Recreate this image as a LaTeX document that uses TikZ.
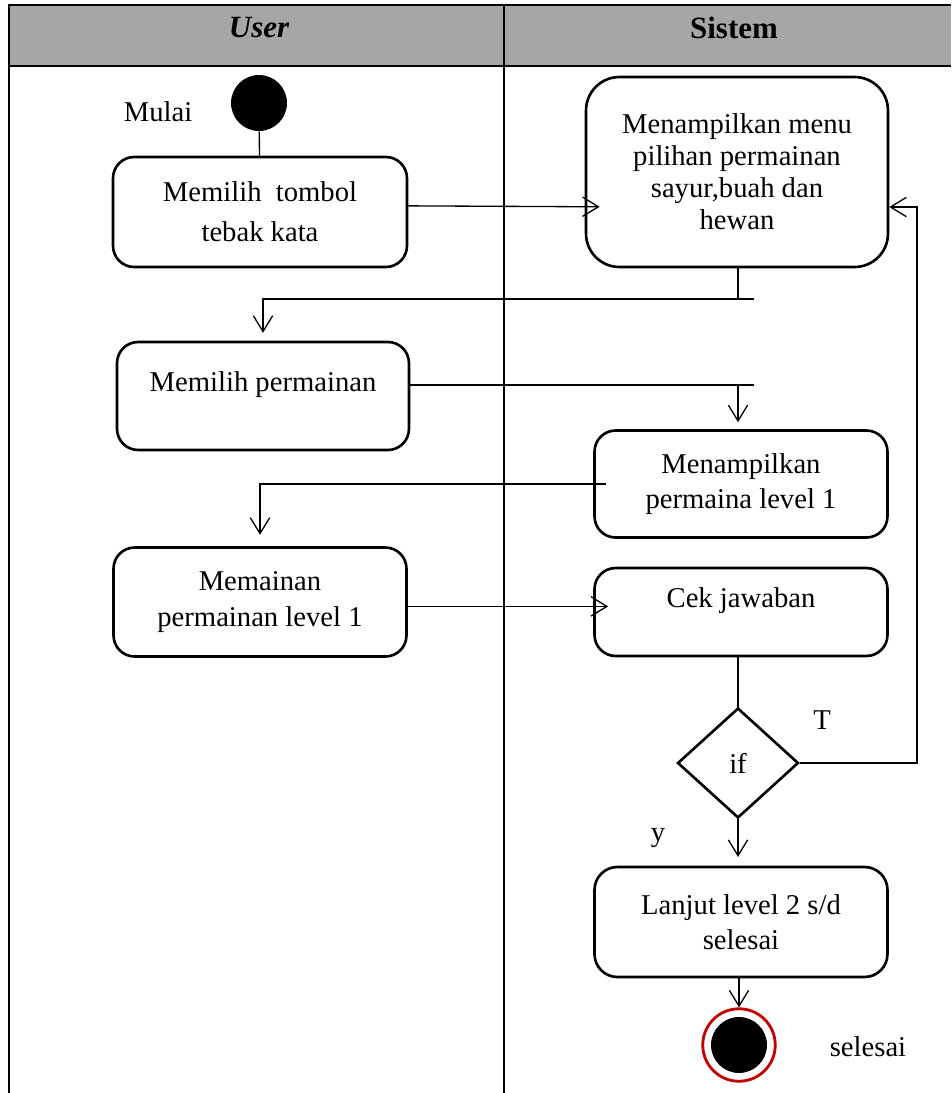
\documentclass[tikz,border=0pt]{standalone}
\usepackage{fontspec}
\setmainfont{Liberation Serif}
\usetikzlibrary{arrows.meta,shapes.geometric,calc,positioning}
\definecolor{headgray}{HTML}{A6A6A6}
\definecolor{endred}{HTML}{C00000}

\begin{document}
\begin{tikzpicture}[x=0.02cm,y=-0.02cm,
  lane/.style={line width=1.7pt},
  act/.style={draw, line width=1.5pt, rounded corners=12pt, align=center, inner sep=0pt,
    minimum width=5.86cm, minimum height=2.2cm, font=\fontsize{16.3}{20}\selectfont},
  txt/.style={font=\fontsize{16.3}{20}\selectfont, inner sep=0pt},
  link/.style={line width=0.75pt},
  flow/.style={line width=0.75pt, -{Straight Barb[length=9pt,width=11pt]}}]
\useasboundingbox (0,0) rectangle (951,1093);

% Header and swimlanes
\fill[headgray] (9,5) rectangle (951,66);
\draw[lane] (9,1093) -- (9,5) -- (951,5);
\draw[lane] (9,66) -- (951,66);
\draw[lane] (504,5) -- (504,1093);
\node[font=\fontsize{17.6}{20}\selectfont\bfseries\itshape] (hu) at (259,28) {User};
\node[font=\fontsize{17.6}{20}\selectfont\bfseries] (hs) at (734,28) {Sistem};

% Start and end
\node[circle, fill=black, inner sep=0pt, minimum size=1.12cm] (start) at (259,103) {};
\node[txt] (mulai) at (158,112) {Mulai};
\node[circle, draw=endred, line width=1.6pt, inner sep=0pt, minimum size=1.45cm] (stop) at (739,1045) {};
\node[circle, fill=black, inner sep=0pt, minimum size=1.12cm] (stopdot) at (stop) {};
\node[txt] (selesai) at (868,1047) {selesai};

% User lane
\node[act, font=\fontsize{16.3}{22.8}\selectfont, minimum width=5.88cm] (u1) at (260,212) {Memilih\ \ tombol\\tebak kata};
\node[act, text depth=16.5pt, minimum width=5.84cm, minimum height=2.16cm] (u2) at (263,396) {Memilih permainan};
\node[act, minimum height=2.18cm] (u3) at (260,602) {Memainan\\permainan level 1};

% Sistem lane
\node[act, font=\fontsize{16.3}{18.2}\selectfont, rounded corners=19pt, minimum width=6.04cm, minimum height=3.8cm] (s1) at (737,172) {Menampilkan menu\\pilihan permainan\\sayur,buah dan\\hewan};
\node[act, minimum height=2.14cm] (s2) at (741,484) {Menampilkan\\permaina level 1};
\node[act, text depth=17pt, minimum height=1.76cm] (s3) at (741,612) {Cek jawaban};
\node[diamond, draw, line width=1.5pt, inner sep=0pt, minimum width=2.42cm, minimum height=2.2cm, font=\fontsize{16.3}{20}\selectfont] (d1) at (738,763) {if};
\node[act, rounded corners=13pt] (s4) at (741,922) {Lanjut level 2 s/d\\selesai};
\node[txt] (lt) at (822,720) {T};
\node[txt] (ly) at (658,838) {y};

% Bend points
\coordinate (j1) at (754,299);
\coordinate (j2) at (754,385);
\coordinate (j3) at (917,207);

% Connectors
\draw[link] (start) -- (u1);
\draw[flow, shorten >=-8.5pt] ([yshift=3.5pt]u1.east) -- ([yshift=3pt]u1.east -| s1.west);
\draw[link] (s1.south -| d1) -- (j1 -| d1);
\draw[flow, shorten >=4.5pt] (j1) -- (j1 -| u2.north) -- (u2.north);
\draw[link] (u2.east |- j2) -- (j2);
\draw[flow, shorten >=4pt] (j2 -| d1) -- (s2.north -| d1);
\draw[flow, shorten >=6.5pt] ([xshift=7.4pt]s2.west) -- (s2.west -| u3.north) -- (u3.north);
\draw[flow, shorten >=-8.5pt] ([yshift=-2.5pt]u3.east) -- ([yshift=-2.5pt]u3.east -| s3.west);
\draw[link] (s3.south -| d1) -- (d1.north);
\draw[flow] (d1.east) -- (d1.east -| j3) -- (j3) -- (j3 -| s1.east);
\draw[flow, shorten >=5pt] (d1.south) -- (s4.north -| d1);
\draw[flow] (s4.south -| stop) -- (stop.north);

\end{tikzpicture}
\end{document}
